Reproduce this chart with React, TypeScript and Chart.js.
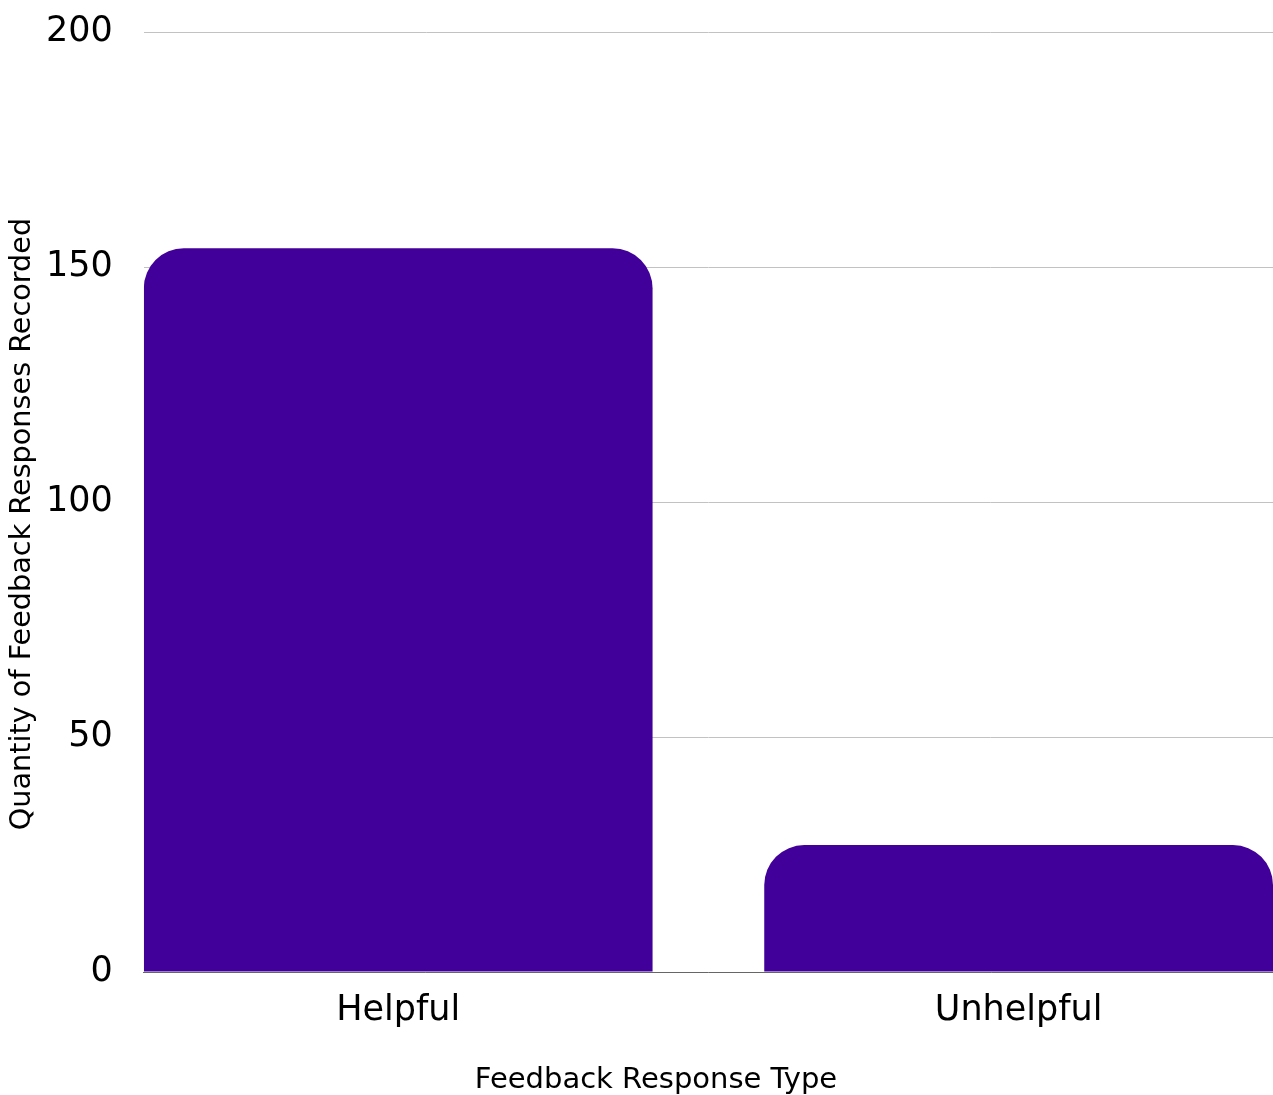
import React, { useEffect, useRef } from "react";
import { Chart, registerables } from "chart.js";

Chart.register(...registerables);

const categories = ["Helpful", "Unhelpful"];
const responseCounts = [154, 27];
const yTickValues = [0, 50, 100, 150, 200];
const xAxisTitle = "Feedback Response Type";
const yAxisTitle = "Quantity of Feedback Responses Recorded";

const FONT = "'DejaVu Sans', sans-serif";

const axisTitlesPlugin = {
  id: "axisTitles",
  afterDraw(chart: any) {
    const { ctx, chartArea } = chart;
    ctx.save();
    ctx.fillStyle = "#000";
    ctx.textAlign = "center";
    ctx.textBaseline = "middle";
    ctx.font = `29px ${FONT}`;
    ctx.fillText(xAxisTitle, 656, 1080);
    ctx.font = `28.7px ${FONT}`;
    ctx.translate(23, (chartArea.top + chartArea.bottom) / 2 + 22);
    ctx.rotate(-Math.PI / 2);
    ctx.fillText(yAxisTitle, 0, 0);
    ctx.restore();
  },
};

export default function App() {
  const ref = useRef<HTMLCanvasElement | null>(null);
  useEffect(() => {
    if (!ref.current) return;
    const chart = new Chart(ref.current, {
      type: "bar",
      data: {
        datasets: [
          {
            label: "Responses",
            data: responseCounts.map((v, i) => ({ x: i, y: v })),
            backgroundColor: "#410099",
            borderRadius: { topLeft: 40, topRight: 40, bottomLeft: 0, bottomRight: 0 },
            borderSkipped: false,
            categoryPercentage: 1,
            barPercentage: 0.82,
          },
        ],
      },
      options: {
        animation: false,
        responsive: true,
        maintainAspectRatio: false,
        layout: { padding: { top: 6, right: 0, left: 15, bottom: 45 } },
        plugins: { legend: { display: false }, tooltip: { enabled: false } },
        scales: {
          x: {
            type: "linear",
            offset: false,
            min: -0.41,
            max: 1.41,
            afterBuildTicks: (axis: any) => {
              axis.ticks = categories.map((_, i) => ({ value: i }));
            },
            grid: { display: false, drawTicks: false },
            border: { display: true, color: "#666666", width: 1 },
            ticks: {
              color: "#000",
              font: { family: FONT, size: 35 },
              padding: 18,
              autoSkip: false,
              maxRotation: 0,
              callback: (v: any) => categories[Math.round(Number(v))] ?? "",
            },
          },
          y: {
            min: 0,
            max: 200,
            afterBuildTicks: (axis: any) => {
              axis.ticks = yTickValues.map((v) => ({ value: v }));
            },
            grid: { color: "#c2c2c2", lineWidth: 1, drawTicks: false },
            border: { display: false },
            ticks: { color: "#000", font: { family: FONT, size: 35, lineHeight: 0.06 }, padding: 31 },
          },
        },
      },
      plugins: [axisTitlesPlugin],
    });
    return () => chart.destroy();
  }, []);
  return (
    <div style={{ position: "absolute", left: 0, top: 0, width: 1273, height: 1095, background: "#fff" }}>
      <canvas ref={ref} />
    </div>
  );
}
